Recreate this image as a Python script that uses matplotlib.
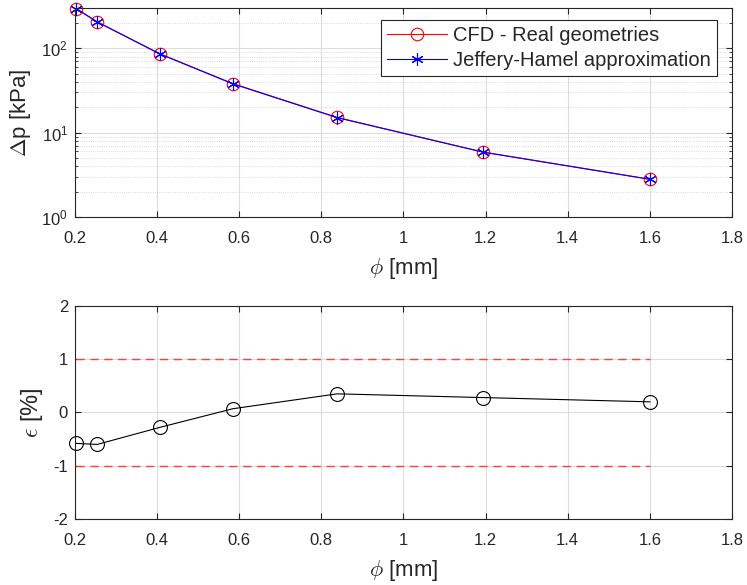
import numpy as np
import matplotlib
matplotlib.use("Agg")
import matplotlib.pyplot as plt
from matplotlib.ticker import LogLocator, NullFormatter

plt.rcParams["font.family"] = ["Liberation Sans", "DejaVu Sans"]
plt.rcParams["mathtext.fontset"] = "cm"
plt.rcParams["axes.unicode_minus"] = False

# wire diameters [mm]
phi = [0.2032, 0.254, 0.4064, 0.5842, 0.8382, 1.1938, 1.6002]
dp_cfd = [297, 207, 86.5, 38.3, 15.2, 5.9, 2.81]
dp_jh = [295, 206, 86.0, 38.0, 15.1, 5.88, 2.80]
err = [-0.58, -0.60, -0.28, 0.07, 0.35, 0.28, 0.20]
tol = [1, -1]
xticks = [0.2, 0.4, 0.6, 0.8, 1.0, 1.2, 1.4, 1.6, 1.8]
xticklabels = ["0.2", "0.4", "0.6", "0.8", "1", "1.2", "1.4", "1.6", "1.8"]

tick_col = "#262626"
grid_col = "#dcdcdc"

fig = plt.figure(figsize=(7.47, 5.85), dpi=100)
ax1 = fig.add_axes([0.1004, 0.629, 0.8795, 0.357])
ax2 = fig.add_axes([0.1004, 0.1128, 0.8795, 0.3642])

# top panel
ax1.plot(phi, dp_cfd, "-o", color="red", lw=0.8, ms=9, mfc="none", mew=0.8,
         clip_on=False, label="CFD - Real geometries")
ax1.plot(phi, dp_jh, color="blue", lw=0.8, ms=9, mew=0.8, marker=(6, 2, 0),
         clip_on=False, label="Jeffery-Hamel approximation")
ax1.set_yscale("log")
ax1.set_xlim(0.2, 1.8)
ax1.set_ylim(1, 300)
ax1.yaxis.set_major_locator(LogLocator(base=10, numticks=10))
ax1.yaxis.set_minor_locator(LogLocator(base=10, subs=np.arange(2, 10), numticks=20))
ax1.yaxis.set_minor_formatter(NullFormatter())
ax1.grid(True, which="major", color=grid_col, lw=0.8)
ax1.grid(True, which="minor", axis="y", color="#cfcfcf", lw=0.6, ls=":")
ax1.set_xlabel(r"$\phi$ [mm]", fontsize=16, color=tick_col, labelpad=7)
ax1.set_ylabel(r"$\Delta$p [kPa]", fontsize=16, color=tick_col, labelpad=6)
leg = ax1.legend(loc="upper right", bbox_to_anchor=(0.977, 0.943), fontsize=14.5,
                 fancybox=False, framealpha=1, edgecolor="#262626",
                 handlelength=3.0, handletextpad=0.3, borderpad=0.3,
                 labelspacing=0.3, borderaxespad=0)
leg.get_frame().set_linewidth(0.8)
for t in leg.get_texts():
    t.set_color(tick_col)

# bottom panel
ax2.plot(phi, err, "-o", color="black", lw=0.8, ms=10, mfc="none", mew=0.8,
         clip_on=False)
for t in tol:
    ax2.plot([phi[0], phi[-1]], [t, t], "--", color="#ff4040", lw=1.0, dashes=(6, 4))
ax2.set_xlim(0.2, 1.8)
ax2.set_ylim(-2, 2)
ax2.set_yticks([-2, -1, 0, 1, 2])
ax2.grid(True, color=grid_col, lw=0.8)
ax2.set_xlabel(r"$\phi$ [mm]", fontsize=16, color=tick_col, labelpad=7)
ax2.set_ylabel(r"$\epsilon$ [%]", fontsize=17, color=tick_col, labelpad=6)

for ax in (ax1, ax2):
    ax.set_xticks(xticks)
    ax.set_xticklabels(xticklabels)
    ax.set_axisbelow(True)
    ax.tick_params(which="both", direction="in", top=True, right=True,
                   labelsize=12, colors=tick_col, length=4)
    ax.tick_params(axis="x", pad=10)
    ax.tick_params(axis="y", pad=5)
    ax.tick_params(which="minor", length=2)
    for s in ax.spines.values():
        s.set_color(tick_col)
        s.set_linewidth(0.8)

fig.savefig("out.png", dpi=100)
